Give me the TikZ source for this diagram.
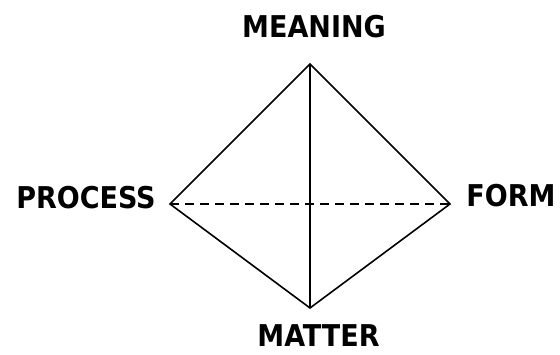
\documentclass[tikz,border=0pt]{standalone}
\usepackage{fontspec}
\setmainfont{DejaVu Sans Condensed}
\begin{document}
\begin{tikzpicture}[x=1pt,y=-1pt,
  lab/.style={font=\bfseries\fontsize{30}{32}\selectfont, inner sep=0pt},
  edge/.style={line width=1.6pt},
  dashedge/.style={line width=1.6pt, dash pattern=on 9pt off 6pt}]
\useasboundingbox[fill=white] (0,0) rectangle (560,354);
\coordinate (T) at (310,64);
\coordinate (L) at (170,204);
\coordinate (R) at (450,204);
\coordinate (B) at (310,308);
\draw[edge, line join=miter] (L) -- (T) -- (R) -- (B) -- cycle;
\draw[edge] (T) -- (B);
\draw[dashedge] (L) -- (R);
\node[lab] (meaning) at (314,27) {MEANING};
\node[lab] (process) at (86,197.5) {PROCESS};
\node[lab] (form) at (511,195.5) {FORM};
\node[lab] (matter) at (318.5,336) {MATTER};
\end{tikzpicture}
\end{document}
